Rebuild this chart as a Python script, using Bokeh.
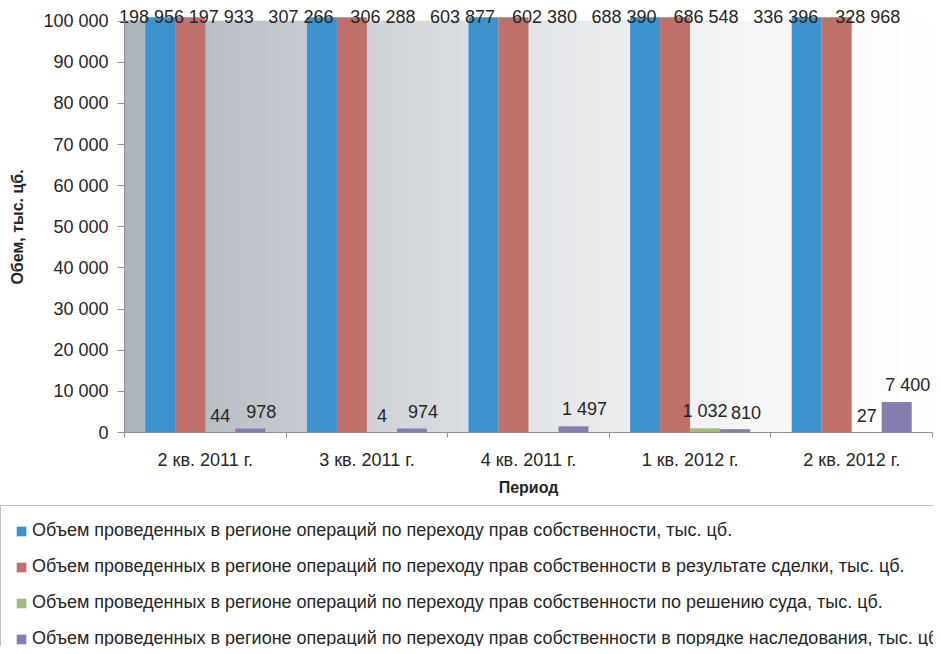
import numpy as np
from bokeh.plotting import figure
from bokeh.models import Range1d, FixedTicker, Legend, LegendItem, ColumnDataSource, LinearAxis
from bokeh.core.properties import value
from bokeh.embed import file_html
from bokeh.resources import INLINE

# ---------------- data ----------------
categories = ["2 кв. 2011 г.", "3 кв. 2011 г.", "4 кв. 2011 г.", "1 кв. 2012 г.", "2 кв. 2012 г."]
vol_total = [198956, 307266, 603877, 688390, 336396]
vol_deal = [197933, 306288, 602380, 686548, 328968]
vol_court = [44, 4, None, 1032, 27]
vol_inherit = [978, 974, 1497, 810, 7400]
series_names = [
    "Объем проведенных в регионе операций по переходу прав собственности, тыс. цб.",
    "Объем проведенных в регионе операций по переходу прав собственности в результате сделки, тыс. цб.",
    "Объем проведенных в регионе операций по переходу прав собственности по решению суда, тыс. цб.",
    "Объем проведенных в регионе операций по переходу прав собственности в порядке наследования, тыс. цб.",
]
y_ticks = [0, 10000, 20000, 30000, 40000, 50000, 60000, 70000, 80000, 90000, 100000]
y_title = "Обем, тыс. цб."
x_title = "Период"

# ---------------- style / geometry ----------------
FONT = "Liberation Sans"
TXT = "#262626"
AXC = "#8E949B"
colors = ["#3B92CC", "#C0706A", "#A2BD79", "#877CB0"]
W, H = 933, 646
N = len(categories)
Y_MAX = y_ticks[-1]
PX_LEFT, PX_RIGHT = 124, 932        # plot area edges (px)
PX_ZERO, PX_TOP = 432, 20.6         # y=0 and y=Y_MAX (px from top)
ppx = (PX_RIGHT - PX_LEFT) / N
ppy = (PX_ZERO - PX_TOP) / Y_MAX
x_start = -PX_LEFT / ppx
x_end = N + (W - PX_RIGHT) / ppx
y_end = Y_MAX + PX_TOP / ppy
y_start = -(H - PX_ZERO) / ppy
CLIP = Y_MAX + 3.8 / ppy            # off-scale bars end slightly above the axis top
BAR_W = 30 / ppx

p = figure(width=W, height=H, x_range=Range1d(x_start, x_end), y_range=Range1d(y_start, y_end),
           output_backend="svg", toolbar_location=None,
           x_axis_location=None, y_axis_location=None,
           min_border_left=0, min_border_right=0, min_border_top=0, min_border_bottom=0)
p.outline_line_color = None
p.xgrid.visible = False
p.ygrid.visible = False
p.background_fill_color = "white"
p.border_fill_color = "white"

# background gradient of the plot area
NS = 160
xs = np.linspace(0, N, NS + 1)
t = (xs[:-1] + xs[1:]) / 2 / N
left_c = np.array([172, 179, 187])
white = np.array([254, 254, 254])
grad = []
for tt in t:
    c = white - (white - left_c) * (1 - tt) ** 1.5
    grad.append("#%02x%02x%02x" % tuple(int(round(v)) for v in c))
p.quad(left=xs[:-1], right=xs[1:], bottom=0, top=Y_MAX, fill_color=grad, line_color=grad, line_width=1)

# bars
all_series = [vol_total, vol_deal, vol_court, vol_inherit]
renderers = []
label_sets = []
for j, vals in enumerate(all_series):
    idx = [i for i, v in enumerate(vals) if v is not None]
    v = np.array([vals[i] for i in idx], dtype=float)
    x = np.array(idx) + 0.5 + (j - 1.5) * BAR_W
    top = np.minimum(v, CLIP)
    src = ColumnDataSource(dict(x=x, top=top))
    r = p.vbar(x="x", top="top", bottom=0, width=BAR_W, source=src,
               fill_color=colors[j], line_color=None)
    renderers.append(r)
    label_sets.append((j, x, v))

for j, x, v in label_sets:
    clipped = v > CLIP
    labs = [f"{int(a):,}".replace(",", " ") for a in v]
    # labels for off-scale bars, at the top of the plot
    if clipped.any():
        if j == 0:
            centers = x[clipped] * ppx
            dx = np.maximum(-21, 27 - centers)
        else:
            dx = np.full(clipped.sum(), 31.0)
        src = ColumnDataSource(dict(x=x[clipped], y=np.full(clipped.sum(), CLIP),
                                    t=[l for l, c in zip(labs, clipped) if c], dx=dx))
        p.text(x="x", y="y", text="t", source=src, x_offset="dx", y_offset=0,
               text_font=value(FONT), text_font_size="18px", text_color=TXT,
               text_align="center", text_baseline="middle")
    if (~clipped).any():
        dxv = 11.0 if j == 3 else 0.0
        src = ColumnDataSource(dict(x=x[~clipped], y=v[~clipped],
                                    t=[l for l, c in zip(labs, clipped) if not c]))
        p.text(x="x", y="y", text="t", source=src, x_offset=dxv, y_offset=-17,
               text_font=value(FONT), text_font_size="18px", text_color=TXT,
               text_align="center", text_baseline="middle")

# y axis (drawn at x = 0)
ya = LinearAxis(fixed_location=0)
ya.ticker = FixedTicker(ticks=y_ticks)
ya.major_label_overrides = {v: f"{v:,}".replace(",", " ") for v in y_ticks}
ya.bounds = (0, Y_MAX)
ya.axis_line_color = AXC
ya.major_tick_line_color = AXC
ya.major_tick_in = 0
ya.major_tick_out = 7
ya.minor_tick_line_color = None
ya.major_label_standoff = 9
ya.major_label_text_font = FONT
ya.major_label_text_font_size = "18px"
ya.major_label_text_color = TXT
ya.axis_label = y_title
ya.axis_label_text_font = FONT
ya.axis_label_text_font_size = "16px"
ya.axis_label_text_font_style = "bold"
ya.axis_label_text_color = TXT
ya.axis_label_standoff = 14
p.add_layout(ya, "left")

# x axis (drawn at y = 0)
xa = LinearAxis(fixed_location=0)
centers_x = [i + 0.5 for i in range(N)]
xa.ticker = FixedTicker(ticks=centers_x, minor_ticks=list(range(N + 1)))
xa.major_label_overrides = {c: lab for c, lab in zip(centers_x, categories)}
xa.bounds = (0, N)
xa.axis_line_color = AXC
xa.major_tick_line_color = None
xa.major_tick_in = 0
xa.major_tick_out = 0
xa.minor_tick_line_color = AXC
xa.minor_tick_in = 0
xa.minor_tick_out = 5
xa.major_label_standoff = 12
xa.major_label_text_font = FONT
xa.major_label_text_font_size = "18px"
xa.major_label_text_color = TXT
xa.axis_label = x_title
xa.axis_label_text_font = FONT
xa.axis_label_text_font_size = "16px"
xa.axis_label_text_font_style = "bold"
xa.axis_label_text_color = TXT
xa.axis_label_standoff = 6
p.add_layout(xa, "below")

# legend under the chart
items = [LegendItem(label=n, renderers=[r]) for n, r in zip(series_names, renderers)]
legend = Legend(items=items, location=(0, -18), orientation="vertical",
                label_text_font=FONT, label_text_font_size="18px", label_text_color=TXT,
                glyph_width=12, glyph_height=12, label_standoff=5, label_height=21,
                spacing=15, padding=14, margin=0,
                border_line_color="#808080", border_line_width=1,
                background_fill_color="white", background_fill_alpha=1)
p.add_layout(legend, "center")

open("out.html", "w").write(file_html(p, INLINE))
